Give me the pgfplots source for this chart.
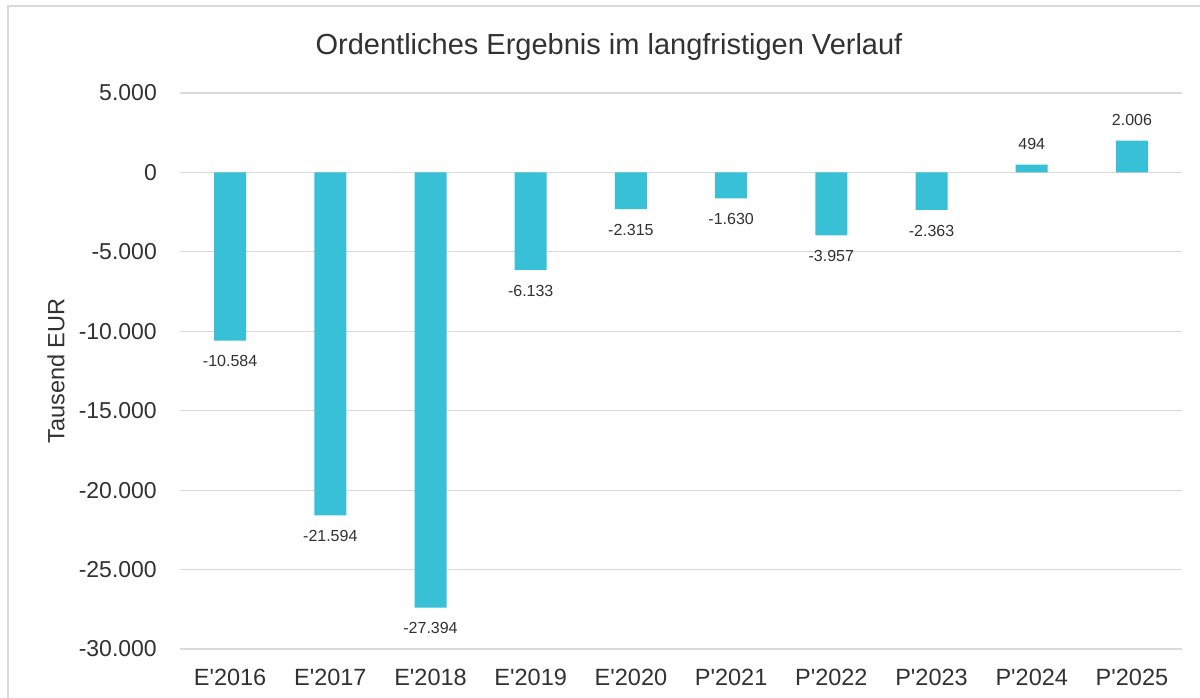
\documentclass[border=0pt]{standalone}
\usepackage{fontspec}
\newfontfamily\arial{Liberation Sans}
\usepackage{pgfplots}
\pgfplotsset{compat=1.18}
\definecolor{barcol}{RGB}{56,192,214}
\definecolor{gridcol}{RGB}{217,217,217}
\definecolor{txt}{RGB}{50,50,50}

\begin{document}
\begin{tikzpicture}[x=1pt, y=1pt, font=\arial]
\useasboundingbox (0,0) rectangle (1200,698);
\fill[white] (0,0) rectangle (1200,698);
\draw[gridcol, line width=1.5pt] (8,-5) -- (8,692) -- (1205,692);
\node[font=\arial\fontsize{29}{34}\selectfont, text=txt] at (609,651)
  {Ordentliches Ergebnis im langfristigen Verlauf};
\begin{axis}[
    at={(180pt,49pt)}, anchor=south west,
    scale only axis,
    width=1002pt, height=556pt,
    ybar, bar width=32pt,
    xmin=-0.5, xmax=9.5,
    ymin=-30000, ymax=5000,
    ytick={-30000,-25000,...,5000},
    scaled y ticks=false,
    xtick={0,...,9},
    xticklabels={E'2016,E'2017,E'2018,E'2019,E'2020,P'2021,P'2022,P'2023,P'2024,P'2025},
    axis line style={draw=none},
    major tick length=0pt,
    ymajorgrids,
    grid style={gridcol, line width=1.2pt},
    /pgf/number format/.cd, fixed, 1000 sep={.}, assume math mode=true,
    /pgfplots/.cd,
    yticklabel style={font=\arial\fontsize{23}{27}\selectfont, text=txt, anchor=east, inner sep=0pt, xshift=-23pt},
    xticklabel style={font=\arial\fontsize{23.5}{27}\selectfont, text=txt, anchor=north, inner sep=0pt, yshift=-20pt},
    ylabel={Tausend EUR},
    every axis y label/.style={at={(axis description cs:-0.1238,0.5)}, rotate=90, anchor=center,
        font=\arial\fontsize{23.5}{27}\selectfont, text=txt},
    nodes near coords,
    nodes near coords align={vertical},
    every node near coord/.append style={font=\arial\fontsize{16}{19}\selectfont, text=txt, inner ysep=15pt},
]
\addplot[fill=barcol, draw=none] coordinates {
    (0,-10584)
    (1,-21594)
    (2,-27394)
    (3,-6133)
    (4,-2315)
    (5,-1630)
    (6,-3957)
    (7,-2363)
    (8,494)
    (9,2006)
};
\end{axis}
\end{tikzpicture}
\end{document}
